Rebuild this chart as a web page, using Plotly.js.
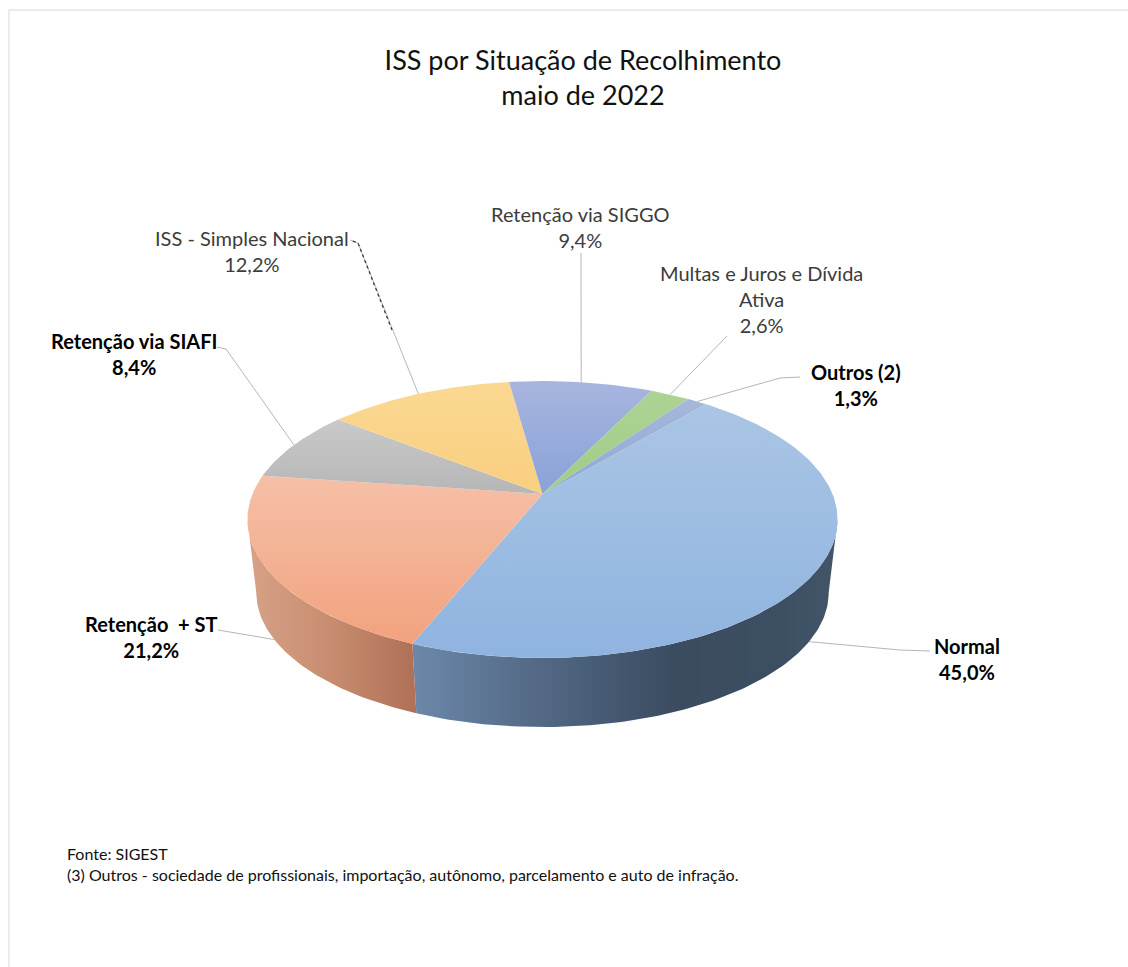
<!DOCTYPE html>
<html>
<head>
<meta charset="utf-8">
<script src="https://cdn.plot.ly/plotly-3.0.1.min.js"></script>
<style>html,body{margin:0;padding:0;background:#fff}#chart{width:1128px;height:967px}</style>
</head>
<body>
<div id="chart"></div>
<script>
// Fatias do ISS, no sentido horário a partir de "Normal"
const labels = ['Normal', 'Retenção  + ST', 'Retenção via SIAFI', 'ISS - Simples Nacional', 'Retenção via SIGGO', 'Multas e Juros e Dívida<br>Ativa', 'Outros (2)'];
const shares = [45.0, 21.2, 8.4, 12.2, 9.4, 2.6, 1.3];
const shareText = ['45,0%', '21,2%', '8,4%', '12,2%', '9,4%', '2,6%', '1,3%'];
const boldLabel = [true, true, true, false, false, false, true];
const topShade = ['#AAC5E5', '#F5C0A8', '#C9C9C9', '#FBD892', '#A8B5DF', '#ACD394', '#A6B8DA'];
const lowShade = ['#8FB4DF', '#F2A27E', '#B6B6B6', '#F9CF80', '#89A2D8', '#A2CC88', '#8FA8D2'];

// Centro dos rótulos e cotovelos das linhas de chamada
const labelX = [967, 151, 134, 252, 580, 761, 856];
const labelY = [659, 637, 354, 251, 227, 299, 385];
const elbowX = [[900, 930], [218], [226, 217], [358, 350], [581], [727], [780, 800]];
const elbowY = [[650, 651], [630], [349, 347], [243, 240], [253], [336], [378, 377]];

// Projeção em perspectiva do disco: face superior e base
const CX = 542.5, CY = 494, RX = 290, RY = 133.8, K = 0.184;
const BASE_DY = 74, BASE_SCALE = 0.97, START_DEG = 40;
const total = shares.reduce((a, b) => a + b, 0);

function rim(deg, dy, s) {
  const t = deg * Math.PI / 180, u = Math.sin(t), v = -Math.cos(t), w = 1 - K * v;
  return [CX + s * RX * u / w, CY + dy + s * RY * v / w];
}
function arc(a, b, dy, s) {
  const pts = [], n = Math.max(4, Math.ceil(Math.abs(b - a)));
  for (let i = 0; i <= n; i++) pts.push(rim(a + (b - a) * i / n, dy, s));
  return pts;
}
const edges = [START_DEG];
shares.forEach(v => edges.push(edges[edges.length - 1] + v / total * 360));

const traces = [];
function polygon(pts, fillgradient) {
  traces.push({
    type: 'scatter', mode: 'lines', fill: 'toself', fillgradient,
    x: pts.map(p => p[0]), y: pts.map(p => p[1]),
    line: { width: 0 }, hoverinfo: 'skip', showlegend: false
  });
}

// Parede lateral visível: só "Normal" e "Retenção + ST" ficam à frente
const RIGHT_TIP = 100.6, LEFT_TIP = 259.4;
polygon(arc(RIGHT_TIP, edges[1], 0, 1).concat(arc(edges[1], RIGHT_TIP, BASE_DY, BASE_SCALE)), {
  type: 'horizontal',
  colorscale: [[0, '#6C88A9'], [0.2, '#5B7391'], [0.45, '#465A73'], [0.62, '#3B4C60'], [0.85, '#3C4E62'], [1, '#425569']]
});
polygon(arc(edges[1], LEFT_TIP, 0, 1).concat(arc(LEFT_TIP, edges[1], BASE_DY, BASE_SCALE)), {
  type: 'horizontal',
  colorscale: [[0, '#D7A287'], [0.5, '#C78C6F'], [1, '#AF7055']]
});

// Face superior
shares.forEach((v, i) => {
  const pts = [[CX, CY]].concat(arc(edges[i], edges[i + 1], 0, 1)).concat([[CX, CY]]);
  polygon(pts, { type: 'vertical', colorscale: [[0, lowShade[i]], [1, topShade[i]]] });
});

// Linhas de chamada: as duas primeiras partem da base, as demais da borda superior
shares.forEach((v, i) => {
  const mid = (edges[i] + edges[i + 1]) / 2;
  const from = i < 2 ? rim(mid, BASE_DY, BASE_SCALE) : rim(mid, 0, 1);
  traces.push({
    type: 'scatter', mode: 'lines',
    x: [from[0]].concat(elbowX[i]), y: [from[1]].concat(elbowY[i]),
    line: { color: '#B5B5B5', width: 1 }, hoverinfo: 'skip', showlegend: false
  });
});
// Trecho escuro e serrilhado da chamada de "ISS - Simples Nacional"
traces.push({
  type: 'scatter', mode: 'lines', x: [392, 358, 350], y: [330, 243, 240],
  line: { color: '#3A3A3A', width: 1.3, dash: 'dot' }, hoverinfo: 'skip', showlegend: false
});

const annotations = labels.map((t, i) => ({
  x: labelX[i], y: labelY[i], xref: 'x', yref: 'y', showarrow: false,
  xanchor: 'center', yanchor: 'middle', align: 'center',
  text: (boldLabel[i] ? '<b>' + t + '<br>' + shareText[i] + '</b>' : t + '<br>' + shareText[i]),
  font: { family: 'Lato, sans-serif', size: 20, color: boldLabel[i] ? '#000000' : '#3C3C3C' }
}));
annotations.push({
  x: 65, y: 864, xref: 'x', yref: 'y', showarrow: false, xanchor: 'left', yanchor: 'middle', align: 'left',
  text: 'Fonte: SIGEST<br>(3) Outros - sociedade de profissionais, importação, autônomo, parcelamento e auto de infração.',
  font: { family: 'Lato, sans-serif', size: 16, color: '#111111' }
});

const layout = {
  width: 1128, height: 967, margin: { l: 0, r: 0, t: 0, b: 0 },
  paper_bgcolor: '#ffffff', plot_bgcolor: '#ffffff', showlegend: false,
  title: {
    text: 'ISS por Situação de Recolhimento<br>maio de 2022',
    x: 583 / 1128, xanchor: 'center', xref: 'paper', y: 1 - 70 / 967, yanchor: 'top', yref: 'container',
    font: { family: 'Lato, sans-serif', size: 27, color: '#111111' }
  },
  xaxis: { range: [0, 1128], visible: false, fixedrange: true },
  yaxis: { range: [967, 0], visible: false, fixedrange: true },
  annotations,
  shapes: [{
    type: 'rect', xref: 'x', yref: 'y', x0: 9, y0: 10, x1: 1140, y1: 980,
    line: { color: '#E6E6E6', width: 1.5 }, fillcolor: 'rgba(0,0,0,0)', layer: 'below'
  }]
};
Plotly.newPlot('chart', traces, layout, { displayModeBar: false, staticPlot: true });
</script>
</body>
</html>
